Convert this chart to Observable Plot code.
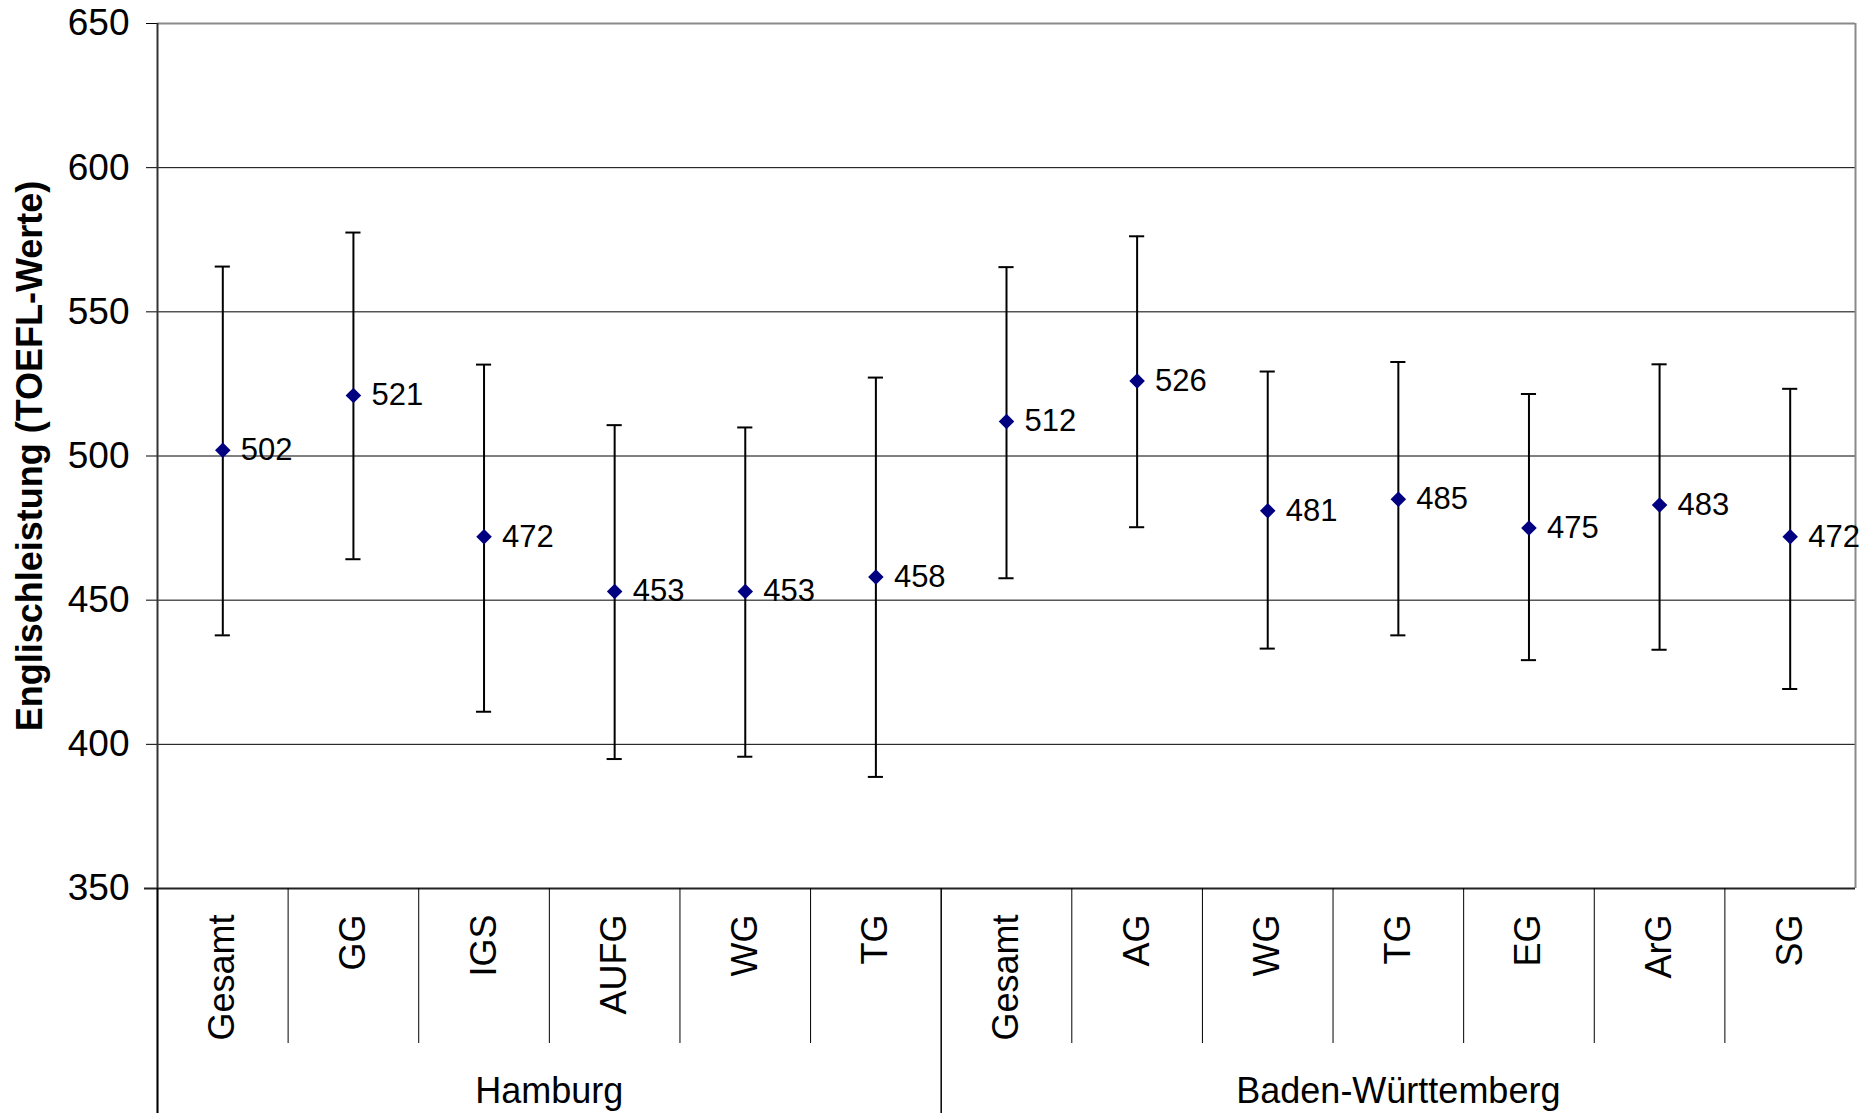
<!DOCTYPE html>
<html>
<head>
<meta charset="utf-8">
<script src="https://cdn.jsdelivr.net/npm/d3@7"></script>
<script src="https://cdn.jsdelivr.net/npm/@observablehq/plot@0.6"></script>
<style>
  html, body { margin: 0; padding: 0; background: #fff; }
  #chart svg { display: block; }
</style>
</head>
<body>
<div id="chart"></div>
<script>
// ---- Data ----
const schools = ["Gesamt", "GG", "IGS", "AUFG", "WG", "TG", "Gesamt", "AG", "WG", "TG", "EG", "ArG", "SG"];
const regions = ["Hamburg", "Hamburg", "Hamburg", "Hamburg", "Hamburg", "Hamburg",
  "Baden-Württemberg", "Baden-Württemberg", "Baden-Württemberg", "Baden-Württemberg",
  "Baden-Württemberg", "Baden-Württemberg", "Baden-Württemberg"];
const means = [502, 521, 472, 453, 453, 458, 512, 526, 481, 485, 475, 483, 472];
const lower = [437.8, 464.2, 411.3, 394.9, 395.7, 388.7, 457.6, 475.3, 433.2, 437.8, 429.2, 432.8, 419.2];
const upper = [565.7, 577.5, 531.7, 510.7, 509.9, 527.2, 565.5, 576.2, 529.3, 532.6, 521.5, 531.8, 523.3];
const yTicks = [350, 400, 450, 500, 550, 600, 650];
const yTitle = "Englischleistung (TOEFL-Werte)";

// ---- Derived tables ----
const rows = schools.map((s, i) => ({i, school: s, region: regions[i], mean: means[i], lo: lower[i], hi: upper[i]}));
const regionNames = [...new Set(regions)];
const regionRows = regionNames.map(r => {
  const idx = rows.filter(d => d.region === r).map(d => d.i);
  return {region: r, first: d3.min(idx), last: d3.max(idx), center: d3.mean(idx)};
});
const innerSeps = rows.slice(0, -1).filter((d, k) => regions[k] === regions[k + 1]).map(d => d.i + 0.5);
const regionSeps = regionRows.map(r => r.first - 0.5);

const FONT = "'Liberation Sans', Arial, Helvetica, sans-serif";
const capHalf = 0.058;
const W = 1864, H = 1113;
const mT = 23, mB = 225, mL = 157, mR = 9;
const plotH = H - mT - mB;

const chart = Plot.plot({
  width: W,
  height: H,
  marginTop: mT,
  marginBottom: mB,
  marginLeft: mL,
  marginRight: mR,
  style: {fontFamily: FONT, background: "#fff", overflow: "visible"},
  x: {type: "linear", domain: [-0.5, schools.length - 0.5], axis: null},
  y: {domain: [350, 650], axis: null},
  marks: [
    Plot.ruleY(yTicks.filter(v => v > 350 && v < 650), {stroke: "#000", strokeWidth: 1}),
    Plot.ruleY([650], {stroke: "#8a8a8a", strokeWidth: 2}),
    Plot.ruleX([schools.length - 0.5], {stroke: "#8a8a8a", strokeWidth: 2}),
    Plot.axisY({ticks: yTicks, tickSize: 11, tickPadding: 17, fontSize: 37, label: null, tickFormat: d => d, stroke: "#000"}),
    Plot.ruleX([-0.5], {stroke: "#333", strokeWidth: 2, insetBottom: -mB}),
    Plot.ruleY([350], {stroke: "#222", strokeWidth: 2, insetLeft: -13}),
    Plot.ruleX(innerSeps, {stroke: "#000", strokeWidth: 1, insetTop: plotH, insetBottom: -155}),
    Plot.ruleX(regionSeps, {stroke: "#000", strokeWidth: 1.5, insetTop: plotH, insetBottom: -mB}),
    Plot.text(rows, {x: "i", text: "school", frameAnchor: "bottom", dy: 26, rotate: -90,
      textAnchor: "end", lineAnchor: "middle", fontSize: 36, fill: "#000"}),
    Plot.text(regionRows, {x: "center", text: "region", frameAnchor: "bottom", dy: 203,
      textAnchor: "middle", lineAnchor: "middle", fontSize: 36, fill: "#000"}),
    Plot.text([yTitle], {frameAnchor: "left", dx: -127, rotate: -90, textAnchor: "middle",
      lineAnchor: "middle", fontSize: 36, fontWeight: "bold", fill: "#000"}),
    Plot.ruleX(rows, {x: "i", y1: "lo", y2: "hi", stroke: "#000", strokeWidth: 2}),
    Plot.ruleY(rows, {x1: d => d.i - capHalf, x2: d => d.i + capHalf, y: "hi", stroke: "#000", strokeWidth: 2}),
    Plot.ruleY(rows, {x1: d => d.i - capHalf, x2: d => d.i + capHalf, y: "lo", stroke: "#000", strokeWidth: 2}),
    Plot.dot(rows, {x: "i", y: "mean", symbol: "diamond2", r: 7, fill: "#000080", stroke: null}),
    Plot.text(rows, {x: "i", y: "mean", text: d => String(d.mean), dx: 18, textAnchor: "start",
      lineAnchor: "middle", fontSize: 31, fill: "#000"})
  ]
});
document.getElementById("chart").appendChild(chart);
</script>
</body>
</html>
